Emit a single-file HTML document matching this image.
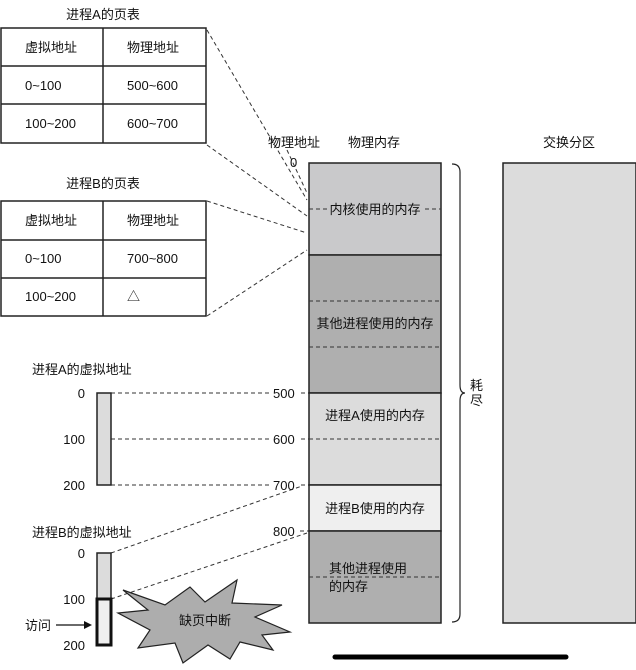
<!DOCTYPE html>
<html><head><meta charset="utf-8"><style>
html,body{margin:0;padding:0;background:#fff;}
svg text{font-family:"Liberation Sans","Noto Sans CJK SC",sans-serif;font-size:13px;fill:#111;}
</style></head><body>
<svg width="636" height="665" viewBox="0 0 636 665" xmlns="http://www.w3.org/2000/svg">
<g stroke="#333" stroke-width="1" stroke-dasharray="4,3" fill="none">
<line x1="207" y1="30" x2="307" y2="200"/>
<line x1="207" y1="145" x2="307" y2="216"/>
<line x1="207" y1="201" x2="307" y2="233"/>
<line x1="207" y1="316" x2="307" y2="250"/>
<line x1="287" y1="150" x2="307" y2="193"/>
<line x1="111" y1="393" x2="272" y2="393"/><line x1="301" y1="393" x2="309" y2="393"/>
<line x1="111" y1="439" x2="272" y2="439"/><line x1="301" y1="439" x2="309" y2="439"/>
<line x1="111" y1="485" x2="272" y2="485"/><line x1="301" y1="485" x2="309" y2="485"/>
<line x1="111" y1="553" x2="302" y2="486"/>
<line x1="111" y1="599" x2="307" y2="533"/>
<line x1="300" y1="531" x2="309" y2="531"/>
</g>
<!-- tables -->
<g stroke="#222" stroke-width="1.5" fill="#fff">
<rect x="1" y="28" width="205" height="115"/>
<line x1="103" y1="28" x2="103" y2="143"/><line x1="1" y1="66" x2="206" y2="66"/><line x1="1" y1="104" x2="206" y2="104"/>
<rect x="1" y="201" width="205" height="115"/>
<line x1="103" y1="201" x2="103" y2="316"/><line x1="1" y1="240" x2="206" y2="240"/><line x1="1" y1="278" x2="206" y2="278"/>
</g>
<text x="103" y="19" text-anchor="middle">进程A的页表</text>
<text x="25" y="52">虚拟地址</text><text x="127" y="52">物理地址</text>
<text x="25" y="90">0~100</text><text x="127" y="90">500~600</text>
<text x="25" y="128">100~200</text><text x="127" y="128">600~700</text>
<text x="103" y="188" text-anchor="middle">进程B的页表</text>
<text x="25" y="225">虚拟地址</text><text x="127" y="225">物理地址</text>
<text x="25" y="263">0~100</text><text x="127" y="263">700~800</text>
<text x="25" y="301">100~200</text><text x="127" y="301">△</text>
<!-- memory -->
<g stroke="#222" stroke-width="1.5">
<rect x="309" y="163" width="132" height="92" fill="#c9c9cb"/>
<rect x="309" y="255" width="132" height="138" fill="#afafaf"/>
<rect x="309" y="393" width="132" height="92" fill="#dcdcdc"/>
<rect x="309" y="485" width="132" height="46" fill="#efefef"/>
<rect x="309" y="531" width="132" height="92" fill="#afafaf"/>
<rect x="503" y="163" width="133" height="460" fill="#dcdcdc"/>
</g>
<g stroke="#333" stroke-width="1" stroke-dasharray="4,3">
<line x1="309" y1="209" x2="330" y2="209"/><line x1="425" y1="209" x2="441" y2="209"/>
<line x1="309" y1="301" x2="441" y2="301"/><line x1="309" y1="347" x2="441" y2="347"/>
<line x1="309" y1="439" x2="441" y2="439"/><line x1="309" y1="577" x2="441" y2="577"/>
</g>
<text x="375" y="214" text-anchor="middle">内核使用的内存</text>
<text x="375" y="328" text-anchor="middle">其他进程使用的内存</text>
<text x="375" y="420" text-anchor="middle">进程A使用的内存</text>
<text x="375" y="513" text-anchor="middle">进程B使用的内存</text>
<text x="329" y="573">其他进程使用</text><text x="329" y="591">的内存</text>
<text x="268" y="147">物理地址</text><text x="348" y="147">物理内存</text>
<text x="543" y="147">交换分区</text>
<text x="290" y="167">0</text>
<text x="273" y="398">500</text><text x="273" y="444">600</text><text x="273" y="490">700</text><text x="273" y="536">800</text>
<path d="M452,164 Q460,164 460,172 L460,385 Q460,393 465,393 Q460,393 460,401 L460,614 Q460,622 452,622" fill="none" stroke="#222" stroke-width="1.2"/>
<text x="470" y="390">耗</text><text x="470" y="405">尽</text>
<!-- virtual -->
<text x="32" y="374">进程A的虚拟地址</text>
<rect x="97" y="393" width="14" height="92" fill="#dcdcdc" stroke="#222" stroke-width="1.5"/>
<text x="85" y="398" text-anchor="end">0</text><text x="85" y="444" text-anchor="end">100</text><text x="85" y="490" text-anchor="end">200</text>
<text x="32" y="537">进程B的虚拟地址</text>
<rect x="97" y="553" width="14" height="46" fill="#dcdcdc" stroke="#222" stroke-width="1.5"/>
<rect x="97" y="599" width="14" height="46" fill="#efefef" stroke="#111" stroke-width="3"/>
<text x="85" y="558" text-anchor="end">0</text><text x="85" y="604" text-anchor="end">100</text><text x="85" y="650" text-anchor="end">200</text>
<text x="25" y="630">访问</text>
<line x1="56" y1="625" x2="86" y2="625" stroke="#111" stroke-width="1.2"/>
<polygon points="92,625 84,621 84,629" fill="#111"/>
<polygon points="123,590 165,605 190,587 205,602 237,580 232,603 282,605 255,617 290,632 262,635 273,650 240,642 230,659 208,645 183,663 175,643 138,648 150,630 118,613 148,610" fill="#adadad" stroke="#222" stroke-width="1.2"/>
<text x="205" y="625" text-anchor="middle">缺页中断</text>
<line x1="335" y1="657" x2="566" y2="657" stroke="#000" stroke-width="5" stroke-linecap="round"/>
</svg>
</body></html>
